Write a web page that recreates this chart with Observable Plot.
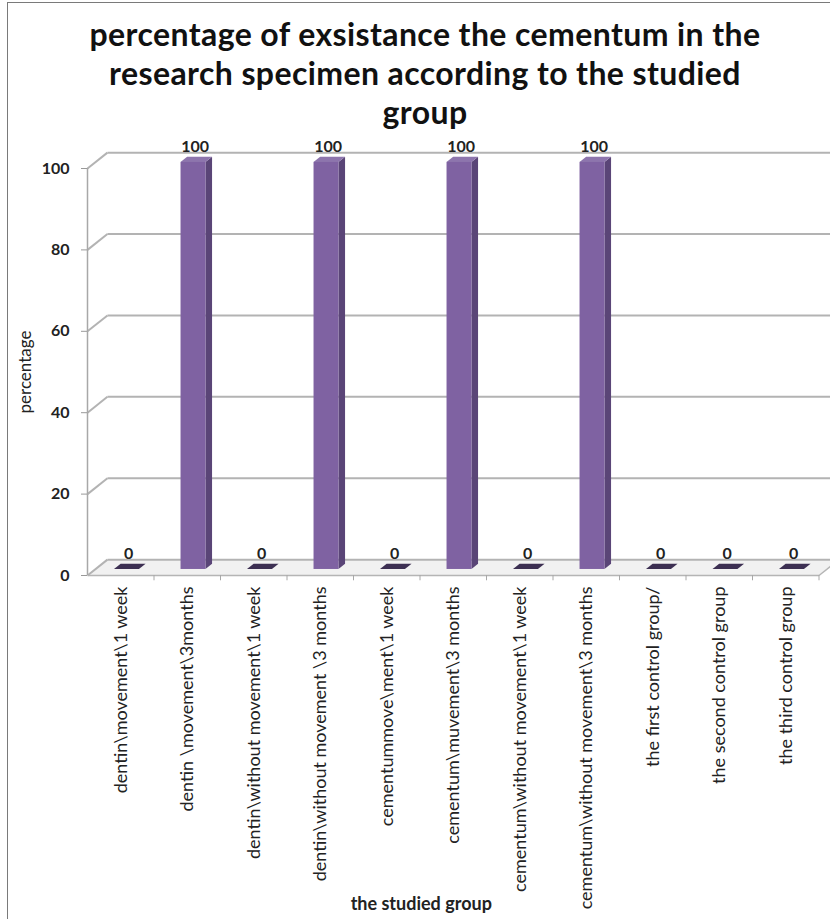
<!DOCTYPE html>
<html>
<head>
<meta charset="utf-8">
<script src="https://cdn.jsdelivr.net/npm/d3@7"></script>
<script src="https://cdn.jsdelivr.net/npm/@observablehq/plot@0.6"></script>
<style>
  body { margin: 0; background: #fff; }
  #wrap { position: relative; width: 830px; height: 919px; overflow: hidden; font-family: Lato, "Open Sans", sans-serif; background: #fff; }
  #border { position: absolute; left: 7px; top: 2px; width: 860px; height: 930px; border: 1px solid #7a7a7a; }
  #title { position: absolute; left: 0; top: 14px; width: 850px; text-align: center; font-weight: bold; font-size: 32px; letter-spacing: 0.4px; line-height: 39px; color: #111; }
  #chart { position: absolute; left: 0; top: 132px; }
</style>
</head>
<body>
<div id="wrap">
  <div id="border"></div>
  <div id="title">percentage of exsistance the cementum in the<br>research specimen according to the studied<br>group</div>
  <div id="chart"></div>
</div>
<script>
const categories = [
  "dentin\\movement\\1 week",
  "dentin \\movement\\3months",
  "dentin\\without movement\\1 week",
  "dentin\\without movement \\3 months",
  "cementummove\\ment\\1 week",
  "cementum\\muvement\\3 months",
  "cementum\\without movement\\1 week",
  "cementum\\without movement\\3 months",
  "the first control group/",
  "the second control group",
  "the third control group"
];
const values = [0, 100, 0, 100, 0, 100, 0, 100, 0, 0, 0];
const yTicks = [0, 20, 40, 60, 80, 100];
const xTitle = "the studied group";
const yTitle = "percentage";

// 3-D look: wall depth expressed in scale units
const DX = 0.30;   // depth along x (category units)
const DY = 3.9;    // depth along y (value units)
const FRONT = 0.38; // bar front face position within depth
const BW = 0.375;   // bar front face width (category units)
const SIDE = 0.33;  // bar depth as fraction of wall depth

const bars = categories.map((c, i) => ({c, i, v: values[i]}));
const n = categories.length;

const x1f = d => d.i + 0.5 - BW / 2 + FRONT * DX - 0.02;
const x2f = d => x1f(d) + BW;
const yb = FRONT * DY;

const sidePts = bars.flatMap(d => [
  {i: d.i, x: x2f(d), y1: yb, y2: d.v + yb},
  {i: d.i, x: x2f(d) + SIDE * DX, y1: yb + SIDE * DY, y2: d.v + yb + SIDE * DY}
]);
const topPts = bars.flatMap(d => [
  {i: d.i, v: d.v, y: d.v + yb, x1: x1f(d), x2: x2f(d)},
  {i: d.i, v: d.v, y: d.v + yb + SIDE * DY, x1: x1f(d) + SIDE * DX, x2: x2f(d) + SIDE * DX}
]);
const floorPts = [
  {y: 0, x1: 0, x2: n},
  {y: DY, x1: DX, x2: n + DX}
];

const plot = Plot.plot({
  width: 830,
  height: 787,
  marginLeft: 87,
  marginRight: 11.5,
  marginTop: 36,
  marginBottom: 344,
  style: {fontFamily: "Lato, 'Open Sans', sans-serif", background: "transparent", overflow: "visible"},
  x: {domain: [0, n]},
  y: {domain: [0, 100]},
  marks: [
    Plot.areaX(floorPts, {y: "y", x1: "x1", x2: "x2", fill: "#f1f1f1"}),
    Plot.link([0], {x1: 0, x2: n, y1: 0, y2: 0, stroke: "#b5b5b5", strokeWidth: 1.5}),
    Plot.link([0], {x1: n, x2: n + DX, y1: 0, y2: DY, stroke: "#b5b5b5", strokeWidth: 1.5}),
    Plot.link(yTicks, {x1: DX, x2: n + DX + 1, y1: d => d + DY, y2: d => d + DY, stroke: "#b3b3b3", strokeWidth: 2}),
    Plot.link(yTicks, {x1: 0, x2: DX, y1: d => d, y2: d => d + DY, stroke: "#b3b3b3", strokeWidth: 2}),
    Plot.ruleX([0], {y1: 0, y2: 100, stroke: "#a8a8a8", strokeWidth: 1.5}),
    Plot.ruleX(d3.range(1, n + 1), {y1: 0, y2: -1.3, stroke: "#a8a8a8"}),
    Plot.areaY(sidePts, {x: "x", y1: "y1", y2: "y2", z: "i", fill: "#5a4577"}),
    Plot.areaX(topPts, {y: "y", x1: "x1", x2: "x2", z: "i", fill: d => d.v === 0 ? "#3c2f52" : "#8d75ad"}),
    Plot.rectY(bars.filter(d => d.v > 0), {x1: x1f, x2: x2f, y1: yb, y2: d => d.v + yb, fill: "#7f62a2"}),
    Plot.text(bars, {x: d => d.i + 0.5 + 0.12, y: "v", text: d => String(d.v), dy: -22, fontSize: 16, fontWeight: "bold", fill: "#222"}),
    Plot.axisY(yTicks, {tickSize: 6, tickPadding: 12, fontSize: 16, fontWeight: "bold", stroke: "#999", fill: "#222", label: null}),
    Plot.axisX(d3.range(n).map(i => i + 0.5), {
      tickFormat: d => categories[Math.floor(d)],
      tickRotate: -90, tickSize: 0, tickPadding: 11, fontSize: 18, fill: "#222", label: null
    }),
    Plot.text([xTitle], {frameAnchor: "bottom", dy: 334, dx: -32, fontSize: 18, fontWeight: "bold", fill: "#222"}),
    Plot.text([yTitle], {frameAnchor: "left", dx: -62, rotate: -90, textAnchor: "middle", fontSize: 17, fill: "#222"})
  ]
});
document.getElementById("chart").appendChild(plot);
</script>
</body>
</html>
